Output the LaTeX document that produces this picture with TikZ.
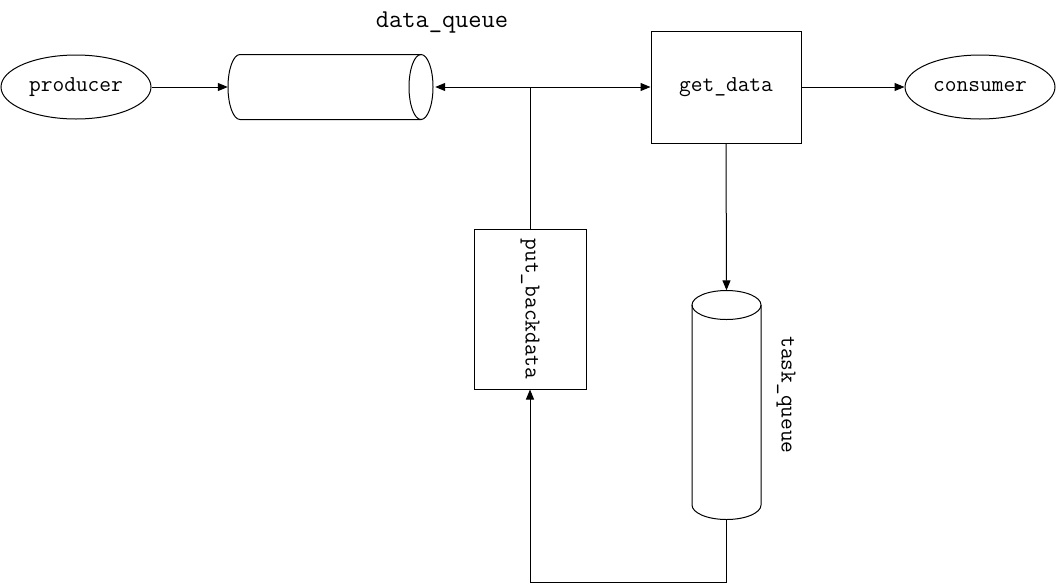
\documentclass[tikz,border=0pt]{standalone}
\usepackage{fontspec}
\usetikzlibrary{arrows.meta,shapes.geometric}
\begin{document}
\begin{tikzpicture}[x=1pt,y=-1pt,
  every node/.style={font=\ttfamily\fontsize{22.8}{22.8}\selectfont, inner sep=0pt},
  lbl/.style={font=\ttfamily\fontsize{25.7}{25.7}\selectfont},
  outline/.style={draw, line width=1pt},
  link/.style={draw, line width=1pt, -{Triangle[length=10pt,width=8pt]}}]
\useasboundingbox (0,0) rectangle (1056,584);

% end points of the flow
\node[outline, ellipse, minimum width=150pt, minimum height=64pt] (prod) at (76,87) {producer};
\node[outline, ellipse, minimum width=150pt, minimum height=64pt] (cons) at (980,87) {consumer};

% worker boxes
\node[outline, rectangle, minimum width=150pt, minimum height=112pt] (get) at (726,87) {get\_data};
\node[outline, rectangle, minimum width=112pt, minimum height=160pt] (put) at (530,309) {};
\node[rotate=-90] at (530,309) {put\_backdata};

% data_queue: horizontal cylinder
\node[minimum width=207pt, minimum height=65pt] (dq) at (331.5,87) {};
\draw[outline] (421,54.5) -- (240,54.5)
  .. controls (233.37,54.5) and (228,69.05) .. (228,87)
  .. controls (228,104.95) and (233.37,119.5) .. (240,119.5) -- (421,119.5);
\draw[outline] (421,87) ellipse [x radius=12, y radius=32.5];
\node[lbl] at (442,22) {data\_queue};

% task_queue: vertical cylinder
\node[minimum width=69pt, minimum height=229pt] (tq) at (726.5,405) {};
\draw[outline] (726.5,305) ellipse [x radius=34.5, y radius=14.5];
\draw[outline] (692,305) -- (692,505)
  .. controls (692,513) and (707.45,519.5) .. (726.5,519.5)
  .. controls (745.55,519.5) and (761,513) .. (761,505) -- (761,305);
\node[rotate=-90] at (786,395) {task\_queue};

% connectors
\draw[link] (prod.east) -- (dq.west);
\draw[link] (put.north) |- (dq.east);
\draw[link] (put.north) |- (get.west);
\draw[link] (get.east) -- (cons.west);
\draw[link] (get.south) -- (tq.north);
\draw[link] (tq.south) -- ++(0,63) -| (put.south);
\end{tikzpicture}
\end{document}
